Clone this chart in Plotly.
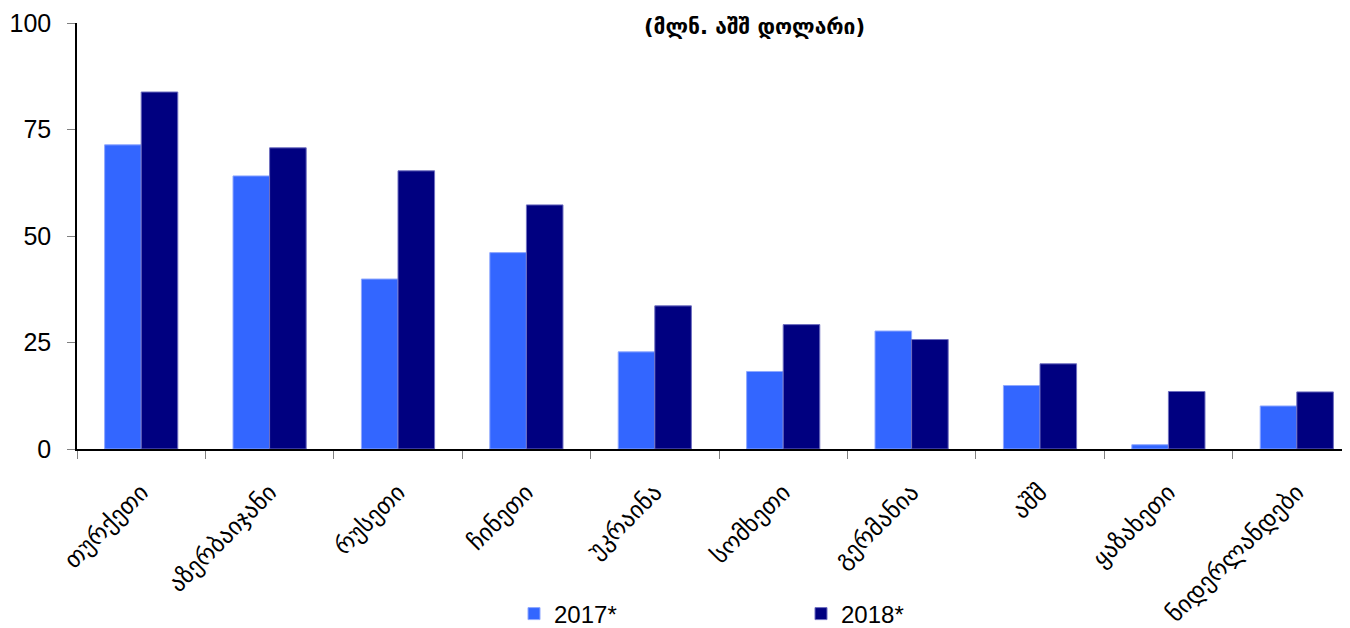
import plotly.graph_objects as go

categories = ["თურქეთი", "აზერბაიჯანი", "რუსეთი", "ჩინეთი", "უკრაინა",
              "სომხეთი", "გერმანია", "აშშ", "ყაზახეთი", "ნიდერლანდები"]
values_2017 = [71.4, 64.1, 39.9, 46.1, 22.8, 18.2, 27.7, 14.9, 1.0, 10.1]
values_2018 = [83.8, 70.7, 65.3, 57.3, 33.6, 29.2, 25.7, 20.0, 13.5, 13.4]
series_names = ["2017*", "2018*"]
y_ticks = [0, 25, 50, 75, 100]
subtitle = "(მლნ. აშშ დოლარი)"

# page body has an 8px offset; margins are set in figure coordinates
ML, MR, MT, MB = 69, 8, 15, 187
plot_w = 1350 - ML - MR
plot_h = 628 - MT - MB

fig = go.Figure()
fig.add_trace(go.Bar(x=categories, y=values_2017, name=series_names[0],
                     marker=dict(color="#3366FF", line=dict(color="#8FA8FF", width=1))))
fig.add_trace(go.Bar(x=categories, y=values_2018, name=series_names[1],
                     marker=dict(color="#000080", line=dict(color="#6F6FC0", width=1))))

fig.update_layout(
    width=1350, height=628,
    margin=dict(l=ML, r=MR, t=MT, b=MB, autoexpand=False),
    paper_bgcolor="white", plot_bgcolor="white",
    barmode="group", bargap=0.43, bargroupgap=0,
    font=dict(family="Liberation Sans, Arial, sans-serif", size=25, color="black"),
    showlegend=True,
    legend=dict(orientation="h", x=(514 - 77) / plot_w, xanchor="left",
                y=(449 - 614) / plot_h, yanchor="middle",
                entrywidth=242, entrywidthmode="pixels", itemwidth=30,
                font=dict(size=24), bgcolor="rgba(0,0,0,0)"),
    annotations=[dict(text="<b>" + subtitle + "</b>",
                      x=(754 - 77) / plot_w, xref="paper",
                      y=(449 - 27) / plot_h, yref="paper",
                      xanchor="center", yanchor="middle", showarrow=False,
                      font=dict(family="DejaVu Sans", size=21, color="black"))],
)

fig.update_xaxes(
    range=[-0.5, -0.5 + plot_w / 128.4], automargin=False,
    showline=True, linecolor="black", linewidth=1.5,
    ticks="outside", tickson="boundaries", ticklen=8, tickcolor="#808080",
    tickangle=-45, tickfont=dict(family="DejaVu Sans", size=24),
    ticklabelstandoff=18,
    showgrid=False, zeroline=False,
)
fig.update_yaxes(
    range=[0, 100], tickvals=y_ticks, automargin=False,
    showline=True, linecolor="black", linewidth=1.5,
    ticks="outside", ticklen=8, tickcolor="#808080",
    ticklabelstandoff=11,
    showgrid=False, zeroline=False,
)

fig.write_html("out.html")
